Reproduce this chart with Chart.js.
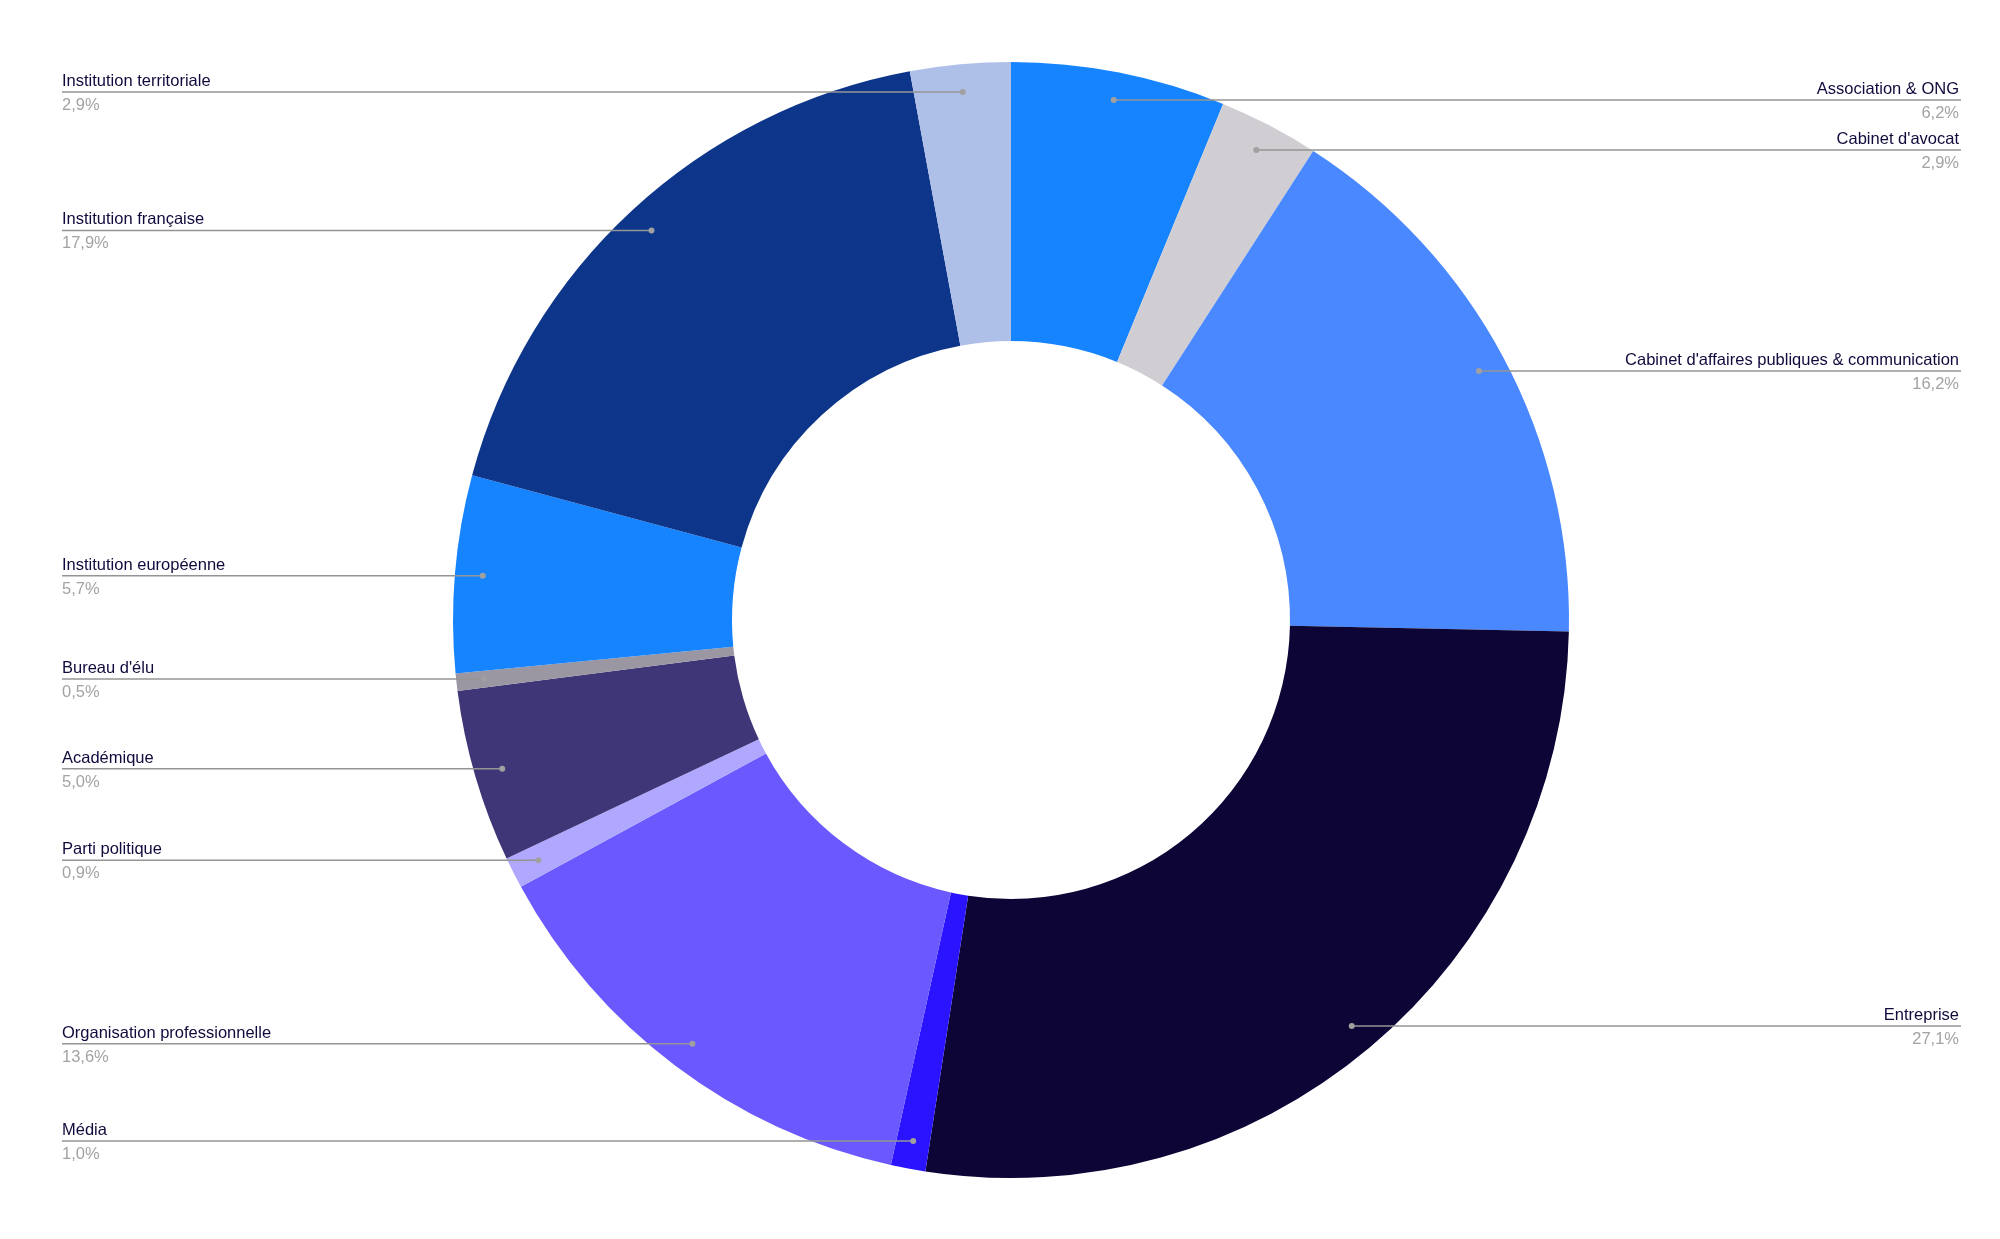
<!DOCTYPE html>
<html>
<head>
<meta charset="utf-8">
<script src="https://cdn.jsdelivr.net/npm/chart.js@4.4.1/dist/chart.umd.min.js"></script>
<style>
  html, body { margin: 0; padding: 0; background: #fff; }
  #wrap { width: 2000px; height: 1239px; }
</style>
</head>
<body>
<div id="wrap"><canvas id="donut" width="2000" height="1239"></canvas></div>
<script>
// ===== Données =====
const categories = [
  'Association & ONG',
  "Cabinet d'avocat",
  "Cabinet d'affaires publiques & communication",
  'Entreprise',
  'Média',
  'Organisation professionnelle',
  'Parti politique',
  'Académique',
  "Bureau d'élu",
  'Institution européenne',
  'Institution française',
  'Institution territoriale'
];
const shares = [6.2, 2.9, 16.2, 27.1, 1.0, 13.6, 0.9, 5.0, 0.5, 5.7, 17.9, 2.9];
const sliceColors = [
  '#1684ff', '#d0ced3', '#4a88ff', '#0c0536', '#2a14ff', '#6b58ff',
  '#b0a8ff', '#3f3677', '#9a96a2', '#1684ff', '#0d368a', '#afc0e8'
];

// ===== Étiquettes avec traits horizontaux =====
const calloutPlugin = {
  id: 'callouts',
  afterDatasetsDraw(chart) {
    const ctx = chart.ctx;
    const arcs = chart.getDatasetMeta(0).data;
    const leftX = 62;
    const rightX = 1961;
    ctx.save();
    arcs.forEach((arc, i) => {
      const mid = (arc.startAngle + arc.endAngle) / 2;
      const r = arc.outerRadius * 0.95;
      const px = arc.x + Math.cos(mid) * r;
      const py = arc.y + Math.sin(mid) * r;
      const right = Math.cos(mid) > 0;

      ctx.strokeStyle = '#949494';
      ctx.lineWidth = 1.5;
      ctx.beginPath();
      ctx.moveTo(right ? rightX : leftX, py);
      ctx.lineTo(px, py);
      ctx.stroke();

      ctx.fillStyle = '#a0a0a0';
      ctx.beginPath();
      ctx.arc(px, py, 3, 0, Math.PI * 2);
      ctx.fill();

      ctx.font = '16.5px "Liberation Sans", Arial, sans-serif';
      ctx.textAlign = right ? 'right' : 'left';
      ctx.textBaseline = 'alphabetic';
      const tx = right ? rightX - 2 : leftX;
      ctx.fillStyle = '#100b3d';
      ctx.fillText(categories[i], tx, py - 6);
      ctx.fillStyle = '#a3a3a3';
      ctx.fillText(shares[i].toFixed(1).replace('.', ',') + '%', tx, py + 18);
    });
    ctx.restore();
  }
};

new Chart(document.getElementById('donut').getContext('2d'), {
  type: 'doughnut',
  data: {
    labels: categories,
    datasets: [{
      data: shares,
      backgroundColor: sliceColors,
      borderWidth: 0
    }]
  },
  options: {
    responsive: false,
    animation: false,
    cutout: '50%',
    layout: { padding: { top: 62, bottom: 61, left: 22, right: 0 } },
    plugins: {
      legend: { display: false },
      tooltip: { enabled: false }
    }
  },
  plugins: [calloutPlugin]
});
</script>
</body>
</html>
